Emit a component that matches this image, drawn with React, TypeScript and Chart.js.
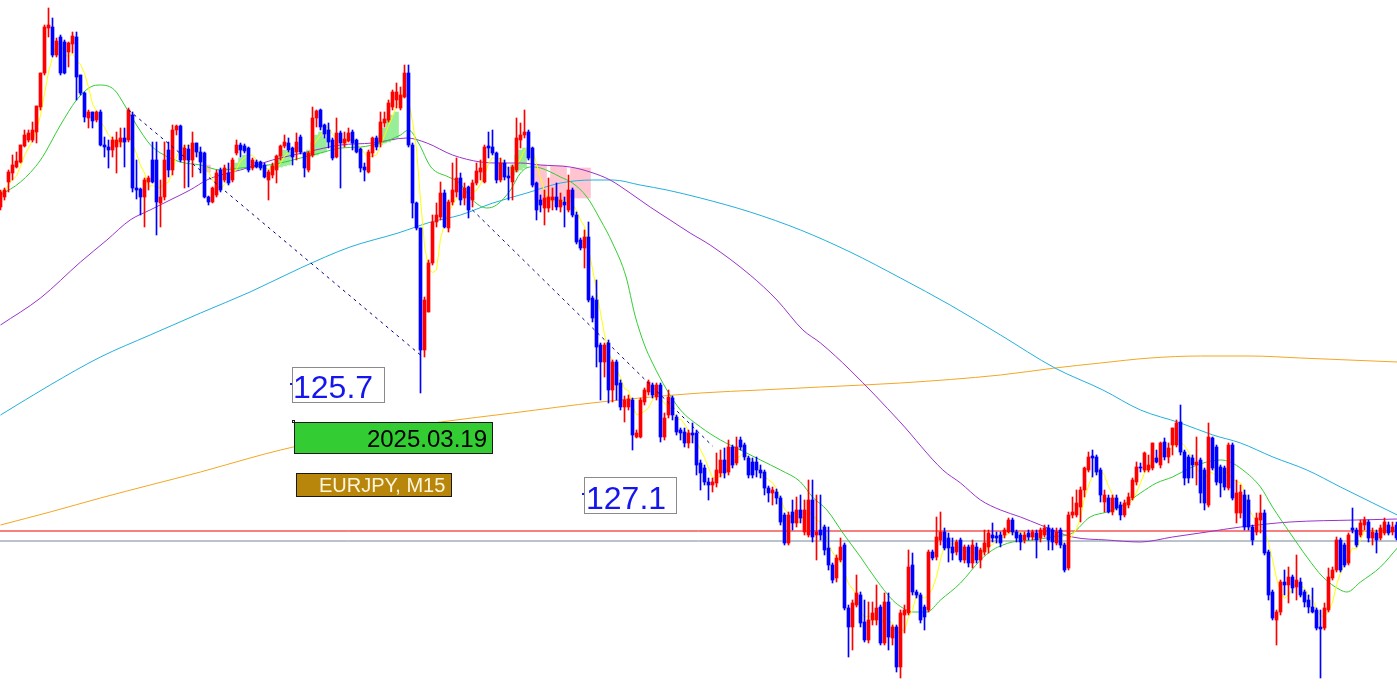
import React, { useEffect, useRef } from "react";
import { Chart, registerables } from "chart.js";

Chart.register(...registerables);

// EURJPY M15 candles (price)
const opens = [
  161.93,162.03,162.18,162.27,162.33,162.38,162.54,162.60,162.60,162.68,
  162.93,163.27,163.72,163.73,163.45,163.63,163.58,163.48,163.56,163.63,
  163.25,163.07,162.82,162.88,162.80,162.88,162.55,162.53,162.50,162.53,
  162.58,162.62,162.60,162.85,162.12,162.11,162.03,162.18,162.40,162.40,
  161.97,162.03,162.50,162.30,162.70,162.74,162.40,162.51,162.40,162.57,
  162.48,162.47,162.03,161.98,162.05,162.30,162.20,162.27,162.20,162.47,
  162.55,162.54,162.52,162.32,162.38,162.38,162.35,162.20,162.25,162.30,
  162.44,162.54,162.57,162.52,162.48,162.63,162.47,162.30,162.45,162.82,
  162.90,162.75,162.70,162.60,162.43,162.67,162.57,162.59,162.68,162.60,
  162.51,162.33,162.28,162.47,162.62,162.58,162.77,162.80,162.93,163.00,
  162.92,163.03,163.27,162.55,161.97,161.72,160.50,160.88,161.37,161.78,
  161.83,162.07,161.72,161.98,162.08,162.22,162.02,162.13,162.00,162.17,
  162.28,162.18,162.54,162.53,162.47,162.20,162.37,162.24,162.18,162.30,
  162.60,162.65,162.68,162.52,162.17,162.00,161.92,161.92,162.00,162.03,
  161.93,161.98,161.90,162.10,161.85,161.60,161.52,161.63,161.02,161.00,
  160.55,160.38,160.57,160.10,160.38,160.17,159.93,159.93,160.00,159.63,
  159.63,159.98,160.08,160.15,160.03,160.15,159.63,159.85,160.02,159.83,
  159.70,159.68,159.57,159.67,159.67,159.37,159.32,159.18,159.15,159.17,
  159.27,159.40,159.28,159.53,159.37,159.60,159.55,159.42,159.38,159.38,
  159.30,159.28,159.12,159.07,159.08,159.02,158.85,158.57,158.88,158.77,
  158.90,158.68,158.65,159.00,158.65,158.70,158.73,158.52,158.35,158.22,
  158.40,158.55,157.92,157.73,157.95,158.05,157.78,157.60,157.80,157.80,
  157.93,157.57,157.98,157.62,157.73,157.33,157.85,157.87,158.35,158.08,
  158.05,157.93,157.90,158.48,158.43,158.60,158.68,158.62,158.53,158.48,
  158.60,158.40,158.53,158.37,158.53,158.40,158.48,158.53,158.65,158.64,
  158.65,158.65,158.68,158.80,158.68,158.65,158.60,158.67,158.63,158.67,
  158.62,158.65,158.72,158.70,158.57,158.70,158.55,158.32,158.85,158.85,
  158.93,159.10,159.30,159.44,159.43,159.30,158.98,159.02,158.88,159.02,
  158.95,158.85,158.95,159.02,159.18,159.33,159.30,159.30,159.32,159.42,
  159.35,159.58,159.43,159.55,159.55,159.78,159.48,159.43,159.42,159.35,
  159.40,159.30,158.95,159.62,159.53,159.33,159.32,159.12,159.55,158.87,
  158.87,159.05,159.00,158.73,158.68,158.80,158.87,158.48,158.08,157.80,
  157.88,158.18,158.15,158.23,158.13,158.18,158.08,158.00,157.93,157.90,
  157.73,157.72,157.90,158.22,158.30,158.60,158.55,158.37,158.72,158.70,
  158.65,158.75,158.78,158.62,158.67,158.62,158.67,158.75,158.68,158.75,
];

const highs = [
  162.10,162.12,162.30,162.45,162.48,162.55,162.70,162.70,162.78,162.94,
  163.27,163.75,163.92,163.82,163.62,163.65,163.60,163.58,163.68,163.68,
  163.25,163.08,162.90,162.88,162.89,162.90,162.63,162.60,162.63,162.68,
  162.72,162.72,162.92,162.88,162.40,162.12,162.22,162.24,162.58,162.58,
  162.20,162.58,162.58,162.75,162.75,162.75,162.55,162.55,162.68,162.57,
  162.53,162.48,162.04,162.13,162.30,162.32,162.35,162.37,162.42,162.60,
  162.57,162.56,162.53,162.42,162.40,162.39,162.37,162.30,162.37,162.45,
  162.55,162.65,162.62,162.53,162.67,162.65,162.48,162.48,162.93,162.90,
  162.91,162.76,162.77,162.62,162.82,162.69,162.68,162.72,162.70,162.61,
  162.52,162.37,162.50,162.63,162.64,162.88,162.88,163.00,163.10,163.17,
  163.13,163.35,163.35,162.57,161.98,161.72,161.03,161.40,161.85,161.97,
  162.18,162.10,162.00,162.37,162.42,162.27,162.17,162.14,162.20,162.37,
  162.40,162.55,162.68,162.70,162.48,162.42,162.40,162.33,162.35,162.82,
  162.77,162.90,162.70,162.53,162.18,162.05,162.10,162.22,162.12,162.17,
  162.07,162.03,162.25,162.12,161.88,161.62,161.70,161.78,161.04,161.20,
  160.57,160.57,160.60,160.40,160.40,160.20,160.04,160.05,160.02,159.70,
  160.02,160.12,160.20,160.17,160.17,160.17,159.87,160.10,160.04,159.85,
  159.72,159.72,159.70,159.77,159.70,159.40,159.35,159.22,159.22,159.47,
  159.50,159.52,159.60,159.55,159.63,159.63,159.57,159.44,159.42,159.43,
  159.35,159.30,159.14,159.13,159.11,159.04,158.87,158.88,159.00,159.03,
  159.05,159.00,159.20,159.20,159.05,159.05,158.75,158.73,158.37,158.45,
  158.62,158.57,157.95,158.00,158.25,158.08,158.00,157.98,157.98,158.15,
  157.95,158.07,158.07,157.75,157.75,157.90,157.95,158.50,158.47,158.10,
  158.07,157.95,158.50,158.50,158.83,158.88,158.72,158.67,158.62,158.60,
  158.62,158.55,158.55,158.60,158.57,158.52,158.70,158.70,158.77,158.68,
  158.68,158.72,158.82,158.82,158.70,158.67,158.68,158.70,158.70,158.70,
  158.72,158.75,158.75,158.72,158.72,158.72,158.57,158.88,159.03,159.10,
  159.13,159.33,159.48,159.50,159.45,159.32,159.10,159.05,159.05,159.05,
  158.98,159.00,159.07,159.22,159.38,159.37,159.48,159.45,159.57,159.50,
  159.58,159.62,159.57,159.72,159.80,159.95,159.50,159.45,159.45,159.63,
  159.42,159.32,159.77,159.63,159.55,159.35,159.34,159.57,159.57,159.20,
  159.15,159.10,159.05,158.75,158.87,159.05,158.90,158.50,158.10,157.90,
  158.20,158.30,158.33,158.25,158.45,158.22,158.10,158.05,158.12,157.92,
  157.90,157.97,158.32,158.33,158.63,158.62,158.57,158.67,158.92,158.72,
  158.80,158.83,158.80,158.72,158.70,158.75,158.82,158.78,158.78,158.78,
];

const lows = [
  161.90,162.00,162.08,162.20,162.32,162.37,162.53,162.58,162.58,162.57,
  162.90,163.25,163.63,163.43,163.43,163.25,163.26,163.33,163.47,163.00,
  163.05,162.78,162.72,162.72,162.78,162.54,162.43,162.32,162.43,162.27,
  162.53,162.33,162.58,162.08,162.01,161.85,161.73,162.10,162.17,161.65,
  161.73,162.00,162.23,162.25,162.65,162.38,162.12,162.13,162.23,162.43,
  162.27,162.02,161.95,161.97,162.03,162.08,162.18,162.15,162.18,162.45,
  162.43,162.47,162.28,162.30,162.32,162.30,162.22,162.00,162.22,162.17,
  162.40,162.52,162.48,162.35,162.40,162.46,162.23,162.28,162.43,162.73,
  162.70,162.62,162.52,162.40,162.42,162.12,162.53,162.58,162.50,162.47,
  162.28,162.19,162.27,162.43,162.50,162.53,162.73,162.78,162.90,162.92,
  162.90,163.02,162.53,161.82,161.70,160.07,160.43,160.88,161.35,161.73,
  161.80,161.72,161.68,161.95,162.03,161.95,161.95,161.82,161.93,162.15,
  162.20,162.17,162.42,162.45,162.17,162.18,162.20,162.00,162.00,162.28,
  162.52,162.62,162.40,162.13,161.80,161.88,161.75,161.88,161.90,161.90,
  161.88,161.73,161.88,161.83,161.56,161.50,161.32,160.98,160.78,160.33,
  160.00,160.23,159.97,159.98,160.00,159.90,159.78,159.90,159.50,159.62,
  159.62,159.95,160.05,160.02,160.00,159.58,159.60,159.82,159.80,159.65,
  159.60,159.53,159.52,159.57,159.25,159.10,159.15,159.00,159.08,159.13,
  159.23,159.22,159.25,159.32,159.35,159.50,159.40,159.22,159.22,159.23,
  159.22,159.05,158.98,158.95,158.96,158.75,158.55,158.55,158.70,158.73,
  158.77,158.65,158.63,158.58,158.40,158.60,158.45,158.30,158.17,158.18,
  158.38,157.90,157.43,157.50,157.93,157.73,157.58,157.57,157.75,157.75,
  157.55,157.55,157.50,157.55,157.28,157.22,157.67,157.85,158.05,158.02,
  157.77,157.70,157.88,158.40,158.40,158.55,158.50,158.38,158.40,158.45,
  158.38,158.37,158.33,158.32,158.37,158.32,158.45,158.47,158.58,158.57,
  158.53,158.62,158.67,158.65,158.58,158.50,158.57,158.60,158.60,158.42,
  158.58,158.63,158.50,158.50,158.55,158.52,158.28,158.30,158.82,158.83,
  158.78,159.03,159.28,159.23,159.25,158.98,158.88,158.87,158.85,158.90,
  158.80,158.83,158.92,159.00,159.15,159.28,159.28,159.28,159.30,159.37,
  159.32,159.40,159.37,159.45,159.53,159.45,159.15,159.17,159.22,159.15,
  158.97,158.90,158.93,159.30,159.15,159.03,159.10,159.10,159.00,158.77,
  158.82,158.70,158.70,158.55,158.65,158.67,158.45,158.00,157.80,157.55,
  157.85,158.05,157.97,158.07,158.00,158.03,157.93,157.87,157.87,157.70,
  157.22,157.70,157.88,158.20,158.28,158.28,158.33,158.35,158.67,158.53,
  158.63,158.70,158.58,158.55,158.47,158.60,158.65,158.65,158.65,158.60,
];

const closes = [
  162.08,162.10,162.28,162.35,162.39,162.55,162.65,162.67,162.70,162.94,
  163.27,163.73,163.75,163.45,163.59,163.27,163.27,163.57,163.64,163.23,
  163.07,162.83,162.88,162.79,162.88,162.55,162.53,162.50,162.60,162.60,
  162.62,162.58,162.90,162.12,162.10,162.03,162.20,162.22,162.18,161.98,
  162.03,162.40,162.30,162.70,162.74,162.40,162.52,162.40,162.57,162.48,
  162.38,162.03,161.98,162.12,162.27,162.10,162.32,162.17,162.40,162.55,
  162.50,162.49,162.30,162.40,162.33,162.32,162.23,162.28,162.34,162.44,
  162.54,162.58,162.50,162.43,162.58,162.48,162.32,162.47,162.82,162.89,
  162.73,162.66,162.58,162.42,162.67,162.57,162.61,162.67,162.57,162.48,
  162.32,162.30,162.48,162.62,162.53,162.78,162.81,162.97,163.08,163.08,
  163.05,163.27,162.55,161.97,161.72,160.50,161.00,161.37,161.78,161.85,
  162.07,161.73,161.98,162.10,162.22,162.00,162.12,161.90,162.17,162.29,
  162.32,162.53,162.52,162.47,162.20,162.37,162.23,162.22,162.33,162.62,
  162.65,162.68,162.42,162.15,161.90,161.95,162.02,162.03,162.03,161.93,
  162.00,161.95,162.10,161.85,161.58,161.52,161.63,161.00,160.82,160.53,
  160.38,160.55,160.10,160.38,160.15,159.93,160.00,160.01,159.65,159.67,
  160.00,160.10,160.18,160.05,160.15,159.63,159.82,160.03,159.85,159.68,
  159.67,159.57,159.67,159.65,159.35,159.27,159.18,159.15,159.18,159.30,
  159.40,159.27,159.53,159.35,159.53,159.53,159.43,159.25,159.25,159.30,
  159.27,159.12,159.07,159.10,159.02,158.78,158.57,158.85,158.77,158.90,
  158.82,158.90,159.00,158.63,158.68,158.65,158.50,158.35,158.20,158.42,
  158.53,157.92,157.73,157.97,158.07,157.77,157.60,157.80,157.87,157.92,
  157.57,157.98,157.63,157.73,157.33,157.87,157.90,158.33,158.08,158.05,
  157.80,157.83,158.48,158.42,158.63,158.68,158.52,158.52,158.47,158.58,
  158.40,158.53,158.37,158.55,158.40,158.50,158.57,158.67,158.62,158.62,
  158.57,158.70,158.80,158.68,158.62,158.58,158.65,158.63,158.68,158.60,
  158.70,158.72,158.60,158.58,158.68,158.55,158.30,158.85,158.88,158.97,
  159.10,159.32,159.43,159.42,159.28,159.05,159.05,158.88,159.02,158.92,
  158.85,158.97,159.03,159.20,159.33,159.32,159.47,159.35,159.57,159.38,
  159.57,159.43,159.52,159.72,159.77,159.48,159.22,159.22,159.35,159.38,
  159.07,158.97,159.63,159.32,159.18,159.17,159.13,159.55,159.02,159.07,
  159.08,158.73,158.73,158.60,158.82,158.87,158.47,158.05,157.82,157.88,
  158.18,158.15,158.23,158.12,158.20,158.05,157.98,157.93,157.88,157.72,
  157.71,157.92,158.23,158.30,158.60,158.30,158.35,158.65,158.70,158.55,
  158.77,158.80,158.62,158.68,158.60,158.72,158.78,158.67,158.73,158.62,
];

// Moving averages (candle index, price)
const greenMaIdx = [0,5,10,15,19,22.5,25,28.5,31,34,37.5,40,45,50,55,60,65,70,75,80,85,90,95,100,102,104.5,107.6,112,114.5,118,121.6,124,127.5,130,132.5,135,137.5,140,143,146.6,150,153,156.4,158.6,161,163,166.6,170,175,180,185,190,195,200,203,206.6,210.6,215,219,223,225.6,228,231.6,235,240,245,248,250.6,253,258,263,268,272.4,276.6,280.6,285,289,293,297.4,301.6,305,307.4,310.6,315,318,322.4,326.6,330.6,335,336.6,340,345,349.2];
const greenMaVal = [162.05,162.18,162.40,162.75,163.00,163.13,163.15,163.10,162.95,162.75,162.55,162.47,162.38,162.35,162.30,162.32,162.34,162.37,162.42,162.47,162.52,162.53,162.57,162.65,162.70,162.57,162.33,162.23,162.18,162.00,161.92,161.95,162.10,162.27,162.33,162.32,162.28,162.23,162.17,162.03,161.80,161.57,161.23,160.85,160.55,160.37,160.10,159.90,159.73,159.60,159.50,159.40,159.30,159.18,159.03,158.90,158.67,158.43,158.20,158.00,157.92,157.88,157.88,158.00,158.17,158.40,158.50,158.55,158.58,158.60,158.63,158.67,158.83,158.88,158.95,159.07,159.17,159.23,159.32,159.38,159.40,159.38,159.30,159.13,158.93,158.67,158.43,158.23,158.10,158.08,158.18,158.33,158.52];

const purpleMaIdx = [0,10,20,26.6,32.4,37.4,42.4,47.4,51.6,55,60,68,76.6,85,93,101.6,106.6,113,120,125,130,135,142.4,147.4,152.4,157.4,162.4,167.4,172.4,177.4,187.4,194.1,200.6,205,212.4,224.9,235.6,240,245,250,255,260,268,276.6,285,293,301.6,310,322.4,339,349.2];
const purpleMaVal = [160.75,161.02,161.38,161.60,161.80,161.90,162.00,162.10,162.20,162.25,162.30,162.40,162.48,162.55,162.57,162.62,162.57,162.45,162.38,162.37,162.37,162.35,162.33,162.28,162.20,162.07,161.93,161.80,161.67,161.55,161.25,161.00,160.70,160.57,160.30,159.78,159.30,159.17,159.00,158.90,158.83,158.75,158.63,158.60,158.58,158.63,158.68,158.73,158.78,158.80,158.81];

const cyanMaIdx = [0,12.4,25,37.4,50,62.4,75,87.4,99.4,107.6,115,123.1,131.6,140,148.1,153.1,159.9,166.6,175,187.4,200,212.4,225,237.4,250,263.6,275.6,285,295,303.1,310,318.1,326.6,335,343.1,349.2];
const cyanMaVal = [159.85,160.15,160.43,160.65,160.87,161.08,161.32,161.53,161.67,161.78,161.85,161.97,162.07,162.17,162.20,162.20,162.15,162.10,162.02,161.88,161.70,161.48,161.22,160.95,160.65,160.32,160.10,159.90,159.77,159.65,159.57,159.43,159.30,159.13,158.97,158.85];

const orangeMaIdx = [0,12.4,25,37.4,50,62.4,70,87.4,110,128,150,175,190,205,225,250,263.6,275,287.4,300,312.4,325,349.2];
const orangeMaVal = [158.75,158.88,159.02,159.15,159.28,159.42,159.50,159.65,159.78,159.87,159.98,160.07,160.10,160.13,160.17,160.25,160.32,160.37,160.42,160.44,160.44,160.42,160.38];

// Horizontal levels
const redLevel = 158.69;
const grayLevel = 158.59;

// Dashed trend lines (candle index, price)
const trend1Idx = [32, 105];
const trend1Val = [162.90, 160.45];
const trend2Idx = [118, 178];
const trend2Val = [161.90, 159.54];

// Indicator shading
const greenFillIdx = [58,59,60,61,68,69,70,71,72,77,78,79,80,81,95,96,97,98,99,128,129,130,131];
const greenFillTop = [162.33,162.37,162.42,162.45,162.35,162.40,162.45,162.50,162.48,162.50,162.58,162.65,162.68,162.62,162.65,162.72,162.80,162.85,162.88,162.35,162.45,162.50,162.52];
const greenFillBottom = [162.30,162.30,162.31,162.32,162.31,162.32,162.33,162.34,162.35,162.43,162.44,162.45,162.47,162.48,162.55,162.57,162.58,162.60,162.62,162.25,162.28,162.30,162.32];
const pinkFillIdx = [51,52,86,134,135,136,138,139,140,141,143,144,145,146,147];
const pinkFillTop = [162.35,162.35,162.60,162.35,162.35,162.35,162.34,162.34,162.34,162.34,162.32,162.32,162.32,162.32,162.32];
const pinkFillBottom = [162.28,162.28,162.54,162.00,162.00,162.00,162.00,162.00,162.00,162.00,162.02,162.02,162.02,162.02,162.02];

const textLabels = ["125.7", "2025.03.19", "EURJPY, M15", "127.1"];

const RED = "#ff0000";
const BLUE = "#0000ff";
const FONT = '"Liberation Sans", Arial, sans-serif';

const pairs = (xs: number[], ys: number[]) => xs.map((x, i) => ({ x, y: ys[i] }));

const labelPlugin = {
  id: "mtLabels",
  afterDatasetsDraw(chart: any) {
    const ctx = chart.ctx as CanvasRenderingContext2D;
    ctx.save();
    // 125.7 box
    ctx.fillStyle = "#ffffff";
    ctx.fillRect(292, 367, 93, 36);
    ctx.strokeStyle = "#8a8a8a";
    ctx.lineWidth = 1;
    ctx.strokeRect(292.5, 367.5, 92, 35);
    ctx.fillStyle = "#1515ee";
    ctx.font = `32px ${FONT}`;
    ctx.textBaseline = "alphabetic";
    ctx.textAlign = "left";
    ctx.fillText(textLabels[0], 293, 398);
    ctx.fillRect(290, 383, 2, 2);

    // date box
    ctx.fillStyle = "#33cc33";
    ctx.fillRect(294, 422, 199, 32);
    ctx.strokeStyle = "#1a1a1a";
    ctx.strokeRect(294.5, 422.5, 198, 31);
    ctx.strokeRect(292.5, 420.5, 2, 2);
    ctx.fillStyle = "#000000";
    ctx.font = `24px ${FONT}`;
    ctx.textAlign = "right";
    ctx.fillText(textLabels[1], 487, 447);

    // symbol box
    ctx.fillStyle = "#b8860b";
    ctx.fillRect(296, 473, 156, 24);
    ctx.strokeStyle = "#1a1a1a";
    ctx.strokeRect(296.5, 473.5, 155, 23);
    ctx.fillStyle = "#fdf6dc";
    ctx.font = `20px ${FONT}`;
    ctx.textAlign = "left";
    ctx.fillText(textLabels[2], 319, 492);

    // 127.1 box
    ctx.fillStyle = "#ffffff";
    ctx.fillRect(584, 477, 93, 37);
    ctx.strokeStyle = "#8a8a8a";
    ctx.strokeRect(584.5, 477.5, 92, 36);
    ctx.fillStyle = "#1515ee";
    ctx.font = `32px ${FONT}`;
    ctx.fillText(textLabels[3], 586, 509);
    ctx.fillRect(582, 493, 2, 2);
    ctx.restore();
  },
};

export default function App() {
  const ref = useRef<HTMLCanvasElement>(null);
  useEffect(() => {
    if (!ref.current) return;
    const idx = closes.map((_, i) => i);
    const col = (i: number) => (closes[i] >= opens[i] ? RED : BLUE);
    const yellow = idx.map((i) => {
      const from = Math.max(0, i - 4);
      const w = closes.slice(from, i + 1);
      return { x: i, y: w.reduce((a, b) => a + b, 0) / w.length };
    });
    const line = (label: string, data: any[], color: string, order: number, extra: any = {}) => ({
      type: "line" as const,
      label,
      data,
      borderColor: color,
      borderWidth: 1,
      pointRadius: 0,
      fill: false,
      cubicInterpolationMode: "monotone" as const,
      order,
      ...extra,
    });
    const chart = new Chart(ref.current, {
      type: "bar",
      data: {
        datasets: [
          {
            label: "bodies",
            data: idx.map((i) => ({ x: i, y: [opens[i], closes[i]] })) as any,
            backgroundColor: (c: any) => col(c.dataIndex),
            barThickness: 3,
            minBarLength: 1,
            grouped: false,
            borderWidth: 0,
            order: 1,
          },
          {
            label: "wicks",
            data: idx.map((i) => ({ x: i, y: [lows[i], highs[i]] })) as any,
            backgroundColor: (c: any) => col(c.dataIndex),
            barThickness: 1,
            grouped: false,
            borderWidth: 0,
            order: 2,
          },
          line("trend1", pairs(trend1Idx, trend1Val), "#000080", 0, { borderDash: [3, 4], cubicInterpolationMode: "default" }),
          line("trend2", pairs(trend2Idx, trend2Val), "#000080", 0, { borderDash: [3, 4], cubicInterpolationMode: "default" }),
          line("ma5", yellow, "#ffff00", 4, { cubicInterpolationMode: "default" }),
          line("ma-green", pairs(greenMaIdx, greenMaVal), "#32cd32", 5),
          line("ma-purple", pairs(purpleMaIdx, purpleMaVal), "#9932cc", 5),
          line("ma-cyan", pairs(cyanMaIdx, cyanMaVal), "#22b0dc", 5),
          line("ma-orange", pairs(orangeMaIdx, orangeMaVal), "#f5a623", 5),
          line("red level", [{ x: -2, y: redLevel }, { x: 352, y: redLevel }], "#ee0000", 6, { cubicInterpolationMode: "default" }),
          line("gray level", [{ x: -2, y: grayLevel }, { x: 352, y: grayLevel }], "#778899", 6, { cubicInterpolationMode: "default" }),
          {
            label: "green zone",
            data: greenFillIdx.map((k, i) => ({ x: k, y: [greenFillBottom[i], greenFillTop[i]] })) as any,
            backgroundColor: "#98ee98",
            barThickness: 4,
            grouped: false,
            borderWidth: 0,
            order: 10,
          },
          {
            label: "pink zone",
            data: pinkFillIdx.map((k, i) => ({ x: k, y: [pinkFillBottom[i], pinkFillTop[i]] })) as any,
            backgroundColor: "#ffc4d0",
            barThickness: 4,
            grouped: false,
            borderWidth: 0,
            order: 10,
          },
        ] as any,
      },
      options: {
        animation: false,
        responsive: true,
        maintainAspectRatio: false,
        layout: { padding: 0 },
        plugins: { legend: { display: false }, tooltip: { enabled: false } },
        scales: {
          x: { type: "linear", min: -0.125, max: 349.125, offset: false, display: false },
          y: { type: "linear", min: 157.08, max: 164.0, display: false },
        },
      },
      plugins: [labelPlugin],
    });
    return () => chart.destroy();
  }, []);
  return (
    <div style={{ position: "fixed", left: 0, top: 0, width: "100vw", height: "100vh", background: "#fff" }}>
      <canvas ref={ref} />
    </div>
  );
}
